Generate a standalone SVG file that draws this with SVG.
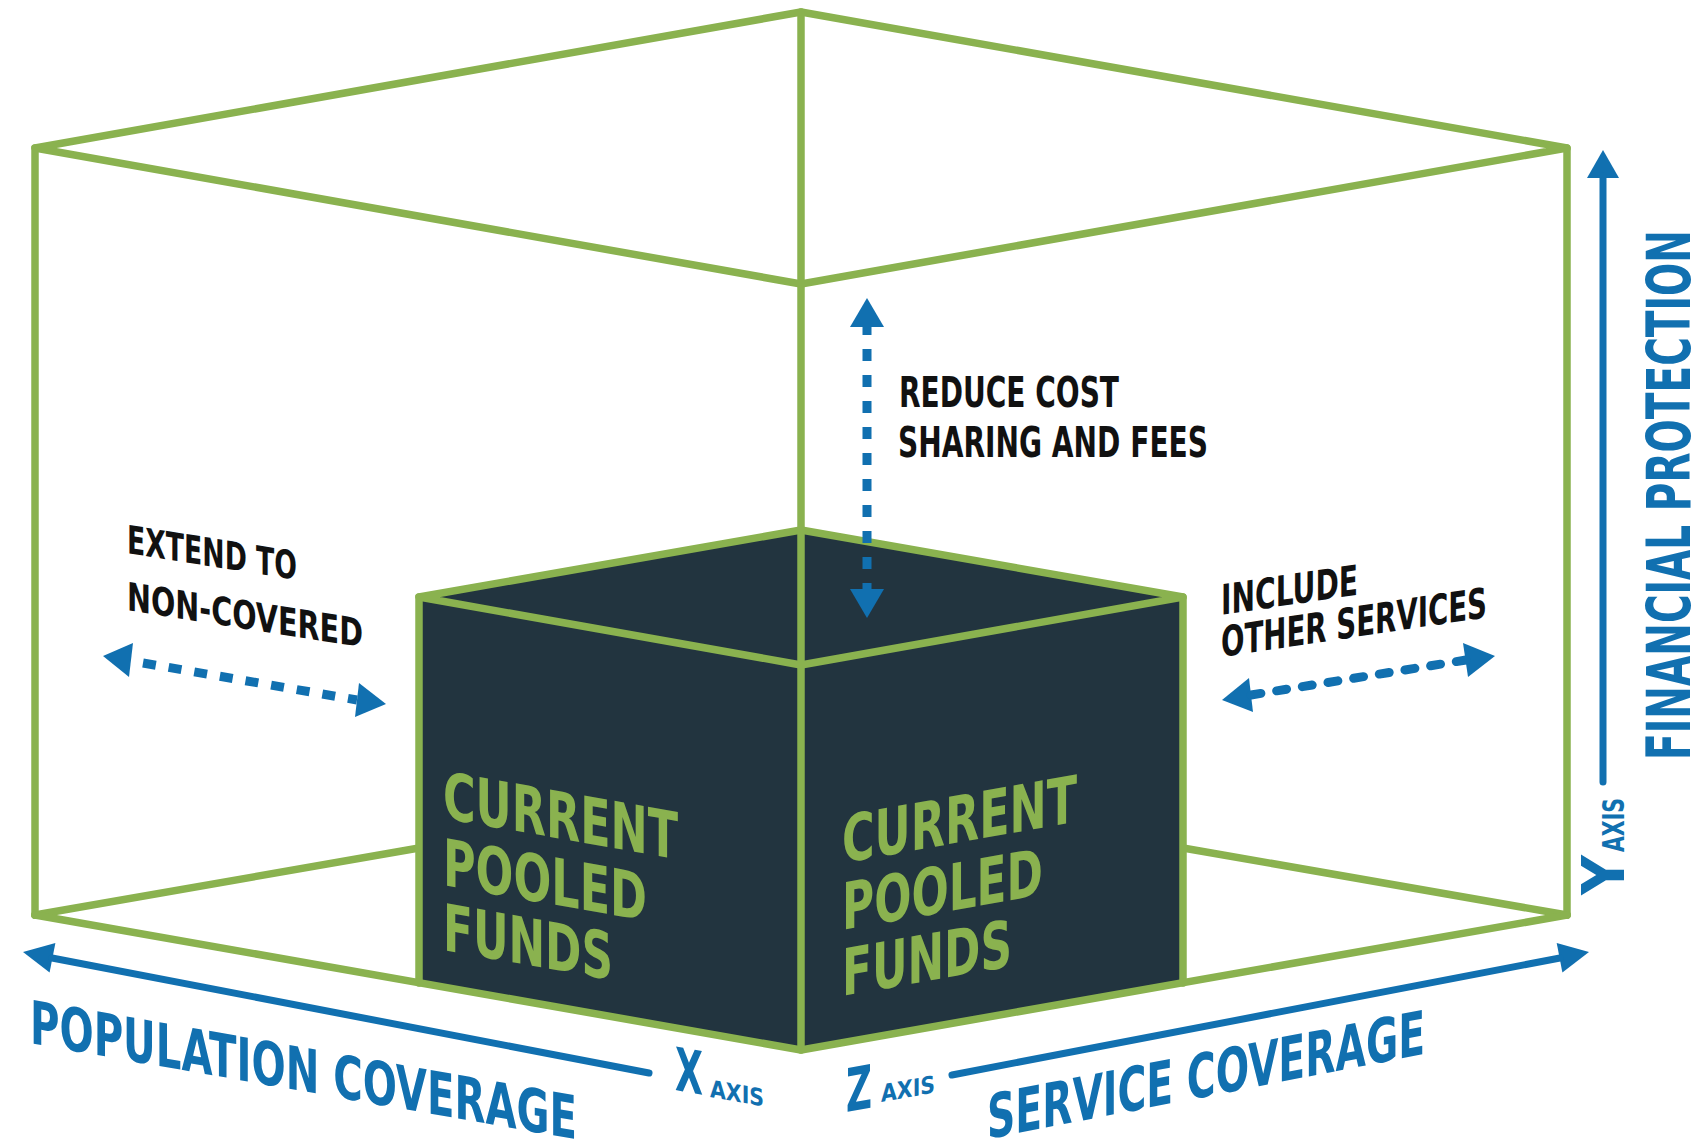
<svg xmlns="http://www.w3.org/2000/svg" width="1695" height="1145" viewBox="0 0 1695 1145">
  <style>
    .g { fill: none; stroke: #8AB24F; stroke-width: 7.5; stroke-linejoin: round; stroke-linecap: round; }
    .ax { fill: none; stroke: #1170B0; stroke-width: 7; stroke-linecap: round; }
    .head { fill: #1170B0; }
    .dash { fill: none; stroke: #1170B0; stroke-width: 9; }
    .t { font-family: "Liberation Sans Narrow", "DejaVu Sans Condensed", "Liberation Sans", sans-serif; font-weight: bold; }
    .black { fill: #111111; }
    .green { fill: #8AB24F; }
    .blue { fill: #1170B0; }
  </style>
  <rect width="1695" height="1145" fill="#ffffff"/>

  <g id="outer-box">
    <polygon class="g" points="801,12 35,148 801,284 1567,148"/>
    <line class="g" x1="35" y1="148" x2="35" y2="915"/>
    <line class="g" x1="1567" y1="148" x2="1567" y2="915"/>
    <line class="g" x1="35" y1="915" x2="419" y2="848"/>
    <line class="g" x1="1183" y1="848" x2="1567" y2="915"/>
  </g>

  <g id="inner-box">
    <polygon points="801,530 419,597 419,983 801,1050 1183,983 1183,597" fill="#22343F"/>
    <polygon class="g" points="801,530 419,597 801,665 1183,597"/>
    <line class="g" x1="419" y1="597" x2="419" y2="983"/>
    <line class="g" x1="1183" y1="597" x2="1183" y2="983"/>
    <polyline class="g" points="35,915 801,1050 1567,915"/>
    <line class="g" x1="801" y1="12" x2="801" y2="1050"/>
    <g class="t green" font-size="65" transform="translate(443,818) skewY(10)">
      <text x="0" y="0" textLength="235" lengthAdjust="spacingAndGlyphs">CURRENT</text>
      <text x="0" y="67" textLength="204" lengthAdjust="spacingAndGlyphs">POOLED</text>
      <text x="0" y="132" textLength="170" lengthAdjust="spacingAndGlyphs">FUNDS</text>
    </g>
    <g class="t green" font-size="65" transform="translate(842,863) skewY(-10)">
      <text x="0" y="0" textLength="235" lengthAdjust="spacingAndGlyphs">CURRENT</text>
      <text x="0" y="67" textLength="201" lengthAdjust="spacingAndGlyphs">POOLED</text>
      <text x="0" y="133" textLength="170" lengthAdjust="spacingAndGlyphs">FUNDS</text>
    </g>
  </g>

  <g id="connectors">
    <!-- X axis -->
    <polygon class="head" points="23,952 49.6,972.4 55.4,943"/>
    <line class="ax" x1="52" y1="958" x2="649" y2="1073"/>
    <!-- Z axis -->
    <polygon class="head" points="1589,952 1562.4,972.4 1556.7,943"/>
    <line class="ax" x1="1560" y1="958" x2="952" y2="1075"/>
    <!-- Y axis -->
    <polygon class="head" points="1603,150 1619,178 1587,178"/>
    <line class="ax" x1="1603" y1="176" x2="1603" y2="782"/>
    <!-- vertical dashed -->
    <polygon class="head" points="867,298 884,327 850,327"/>
    <polygon class="head" points="867,618 884,589 850,589"/>
    <line class="dash" x1="867" y1="327" x2="867" y2="589" stroke-dasharray="12 14" stroke-dashoffset="4"/>
    <!-- extend dashed -->
    <polygon class="head" points="103,656 133,643 129,677"/>
    <polygon class="head" points="386,704 359,683 355,717"/>
    <line class="dash" stroke-width="8" x1="143" y1="663" x2="357" y2="700" stroke-dasharray="13 13"/>
    <!-- include dashed -->
    <polygon class="head" points="1222,700 1249,678 1253,712"/>
    <polygon class="head" points="1495,656 1463,643 1468,677"/>
    <line class="dash" x1="1251" y1="695" x2="1466" y2="660" stroke-dasharray="10 16" stroke-linecap="round"/>
  </g>

  <g id="label-x-axis" class="t blue">
    <text font-size="60" transform="translate(30,1043) skewY(10)" textLength="547" lengthAdjust="spacingAndGlyphs">POPULATION COVERAGE</text>
    <text font-size="60" transform="translate(675,1090) skewY(10)" textLength="28" lengthAdjust="spacingAndGlyphs">X</text>
    <text font-size="24" transform="translate(710,1097) skewY(10)" textLength="54" lengthAdjust="spacingAndGlyphs">AXIS</text>
  </g>

  <g id="label-z-axis" class="t blue">
    <text font-size="60" transform="translate(846,1112) skewY(-10)" textLength="26" lengthAdjust="spacingAndGlyphs">Z</text>
    <text font-size="24" transform="translate(881,1102) skewY(-10)" textLength="54" lengthAdjust="spacingAndGlyphs">AXIS</text>
    <text font-size="61" transform="translate(987,1139) skewY(-11)" textLength="438" lengthAdjust="spacingAndGlyphs">SERVICE COVERAGE</text>
  </g>

  <g id="label-y-axis" class="t blue">
    <text font-size="60" transform="translate(1690,760) rotate(-90)" textLength="530" lengthAdjust="spacingAndGlyphs">FINANCIAL PROTECTION</text>
    <text font-size="58" transform="translate(1624,895) rotate(-90)" textLength="40" lengthAdjust="spacingAndGlyphs">Y</text>
    <text font-size="30" transform="translate(1624,852) rotate(-90)" textLength="54" lengthAdjust="spacingAndGlyphs">AXIS</text>
  </g>

  <g id="label-reduce" class="t black" font-size="42">
    <text x="899" y="407" textLength="220" lengthAdjust="spacingAndGlyphs">REDUCE COST</text>
    <text x="898" y="457" textLength="310" lengthAdjust="spacingAndGlyphs">SHARING AND FEES</text>
  </g>

  <g id="label-extend" class="t black" font-size="39" transform="translate(127,553) skewY(9)">
    <text x="0" y="0" textLength="170" lengthAdjust="spacingAndGlyphs">EXTEND TO</text>
    <text x="0" y="57" textLength="236" lengthAdjust="spacingAndGlyphs">NON-COVERED</text>
  </g>

  <g id="label-include" class="t black" font-size="42" transform="translate(1221,615) skewY(-8.5)">
    <text x="0" y="0" textLength="137" lengthAdjust="spacingAndGlyphs">INCLUDE</text>
    <text x="0" y="42" textLength="266" lengthAdjust="spacingAndGlyphs">OTHER SERVICES</text>
  </g>
</svg>
